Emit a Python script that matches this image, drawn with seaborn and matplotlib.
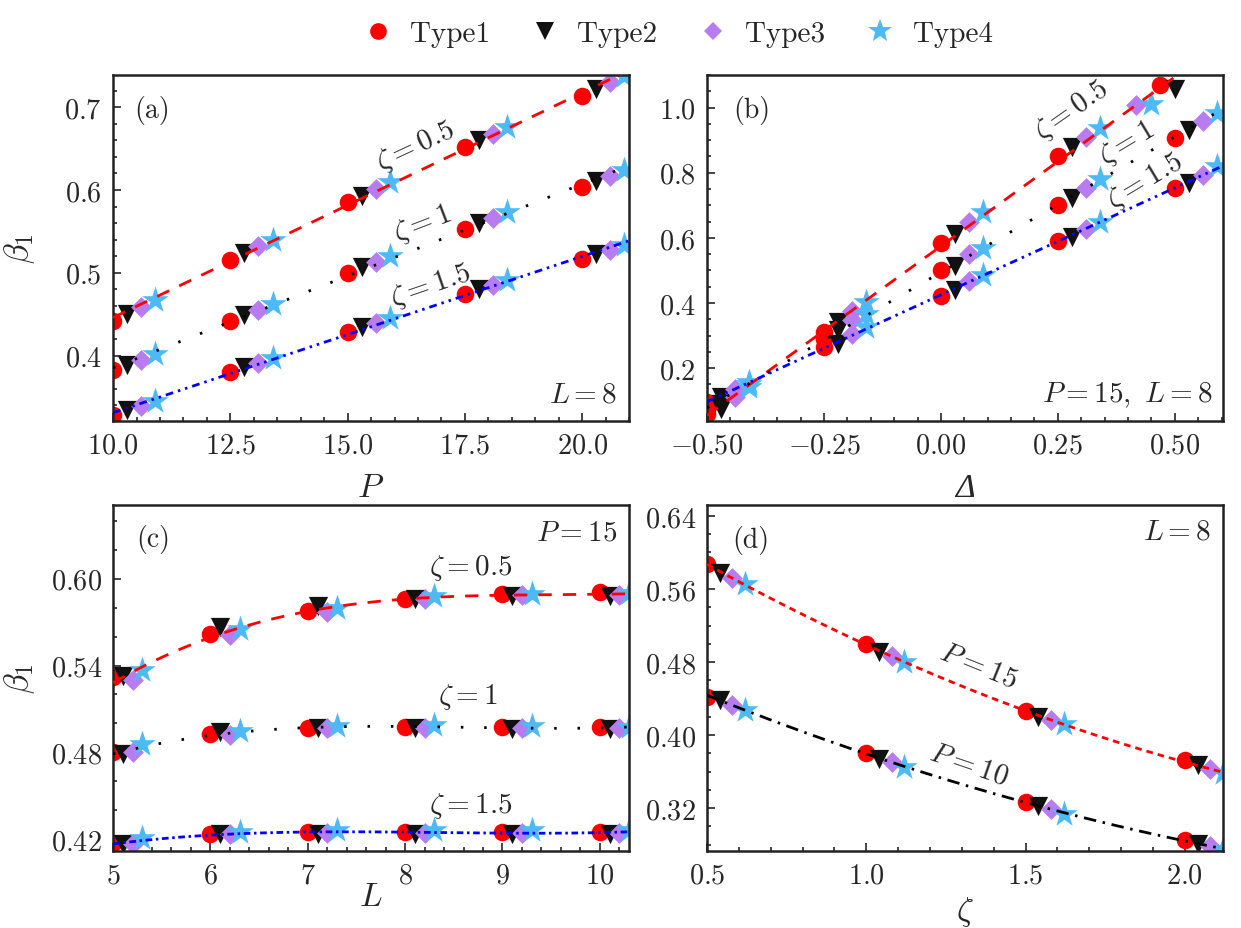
import numpy as np
import pandas as pd
import matplotlib
matplotlib.use("Agg")
import matplotlib.pyplot as plt
import seaborn as sns
from matplotlib.lines import Line2D
from matplotlib.ticker import MultipleLocator, FuncFormatter

TYPES = ["Type1", "Type2", "Type3", "Type4"]
COLORS = {"Type1": "#ff0000", "Type2": "#111111", "Type3": "#b97cf0", "Type4": "#4dbaf6"}
MARKERS = {"Type1": "o", "Type2": "v", "Type3": "D", "Type4": "*"}
SIZES = {"Type1": 40, "Type2": 48, "Type3": 28, "Type4": 100}

# (a) beta_1 vs P, L = 8
A_X = {"Type1": [10, 12.5, 15, 17.5, 20],
       "Type2": [10.3, 12.8, 15.3, 17.8, 20.3],
       "Type3": [10.6, 13.1, 15.6, 18.1, 20.6],
       "Type4": [10.9, 13.4, 15.9, 18.4, 20.9]}
A_Z05 = {"Type1": [0.442, 0.516, 0.585, 0.652, 0.714],
         "Type2": [0.450, 0.524, 0.593, 0.660, 0.722],
         "Type3": [0.459, 0.532, 0.601, 0.668, 0.730],
         "Type4": [0.467, 0.540, 0.610, 0.676, 0.738]}
A_Z1 = {"Type1": [0.382, 0.442, 0.500, 0.553, 0.604],
        "Type2": [0.389, 0.449, 0.507, 0.560, 0.611],
        "Type3": [0.395, 0.455, 0.513, 0.566, 0.617],
        "Type4": [0.402, 0.462, 0.520, 0.573, 0.624]}
A_Z15 = {"Type1": [0.328, 0.380, 0.428, 0.474, 0.517],
         "Type2": [0.334, 0.386, 0.434, 0.480, 0.523],
         "Type3": [0.339, 0.391, 0.439, 0.485, 0.528],
         "Type4": [0.345, 0.397, 0.445, 0.491, 0.534]}

# (b) beta_1 vs Delta, P = 15, L = 8
B_X = {"Type1": [-0.5, -0.25, 0.0, 0.25, 0.5],
       "Type2": [-0.47, -0.22, 0.03, 0.28, 0.53],
       "Type3": [-0.44, -0.19, 0.06, 0.31, 0.56],
       "Type4": [-0.41, -0.16, 0.09, 0.34, 0.59]}
B_X_Z05 = {"Type1": [-0.5, -0.25, 0.0, 0.25, 0.469],
           "Type2": [-0.47, -0.22, 0.03, 0.28, 0.5],
           "Type3": [-0.44, -0.19, 0.06, 0.31, 0.418],
           "Type4": [-0.41, -0.16, 0.09, 0.34, 0.45]}
B_Z05 = {"Type1": [0.058, 0.311, 0.585, 0.851, 1.068],
         "Type2": [0.076, 0.342, 0.611, 0.879, 1.057],
         "Type3": [0.112, 0.377, 0.649, 0.910, 1.009],
         "Type4": [0.142, 0.403, 0.679, 0.938, 1.012]}
B_Z1 = {"Type1": [0.075, 0.290, 0.500, 0.702, 0.907],
        "Type2": [0.090, 0.316, 0.515, 0.723, 0.930],
        "Type3": [0.124, 0.347, 0.551, 0.754, 0.958],
        "Type4": [0.150, 0.367, 0.569, 0.781, 0.984]}
B_Z15 = {"Type1": [0.096, 0.265, 0.423, 0.590, 0.754],
         "Type2": [0.112, 0.275, 0.439, 0.603, 0.767],
         "Type3": [0.137, 0.306, 0.469, 0.628, 0.794],
         "Type4": [0.158, 0.326, 0.485, 0.648, 0.820]}

# (c) beta_1 vs L, P = 15
C_X = {"Type1": [5, 6, 7, 8, 9, 10],
       "Type2": [5.1, 6.1, 7.1, 8.1, 9.1, 10.1],
       "Type3": [5.2, 6.2, 7.2, 8.2, 9.2, 10.2],
       "Type4": [5.3, 6.3, 7.3, 8.3, 9.3, 10.3]}
C_Z05 = {"Type1": [0.532, 0.562, 0.578, 0.586, 0.5895, 0.5906],
         "Type2": [0.533, 0.567, 0.581, 0.586, 0.588, 0.588],
         "Type3": [0.530, 0.561, 0.577, 0.586, 0.589, 0.589],
         "Type4": [0.537, 0.565, 0.580, 0.588, 0.5895, 0.590]}
C_Z1 = {"Type1": [0.480, 0.4925, 0.497, 0.4978, 0.4978, 0.4975],
        "Type2": [0.479, 0.494, 0.4965, 0.4965, 0.4962, 0.4962],
        "Type3": [0.480, 0.492, 0.4965, 0.4965, 0.4965, 0.4965],
        "Type4": [0.4855, 0.495, 0.4985, 0.499, 0.4985, 0.4978]}
C_Z15 = {"Type1": [0.417, 0.4235, 0.4247, 0.4247, 0.4247, 0.4247],
         "Type2": [0.4165, 0.4235, 0.4235, 0.4235, 0.4235, 0.4235],
         "Type3": [0.4165, 0.4235, 0.424, 0.424, 0.424, 0.424],
         "Type4": [0.421, 0.4247, 0.426, 0.426, 0.426, 0.426]}

# (d) beta_1 vs zeta, L = 8
D_X = {"Type1": [0.5, 1.0, 1.5, 2.0],
       "Type2": [0.54, 1.04, 1.54, 2.04],
       "Type3": [0.58, 1.08, 1.58, 2.08],
       "Type4": [0.62, 1.12, 1.62, 2.12]}
D_P15 = {"Type1": [0.587, 0.4995, 0.4265, 0.3725],
         "Type2": [0.578, 0.491, 0.420, 0.367],
         "Type3": [0.572, 0.487, 0.4167, 0.3623],
         "Type4": [0.5655, 0.4803, 0.412, 0.358]}
D_P10 = {"Type1": [0.442, 0.3805, 0.3266, 0.2846],
         "Type2": [0.4386, 0.3743, 0.3218, 0.281],
         "Type3": [0.433, 0.3707, 0.319, 0.279],
         "Type4": [0.4276, 0.365, 0.3136, 0.275]}


def make_frame(series):
    rows = []
    for name, xs, ys in series:
        for t in TYPES:
            for x, y in zip(xs[t], ys[t]):
                rows.append({"series": name, "type": t, "x": x, "y": y})
    return pd.DataFrame(rows)


def draw_panel(ax, df, styles, deg, xlim, ylim):
    for t in TYPES:
        sub = df[df["type"] == t]
        sns.scatterplot(data=sub, x="x", y="y", ax=ax, marker=MARKERS[t], color=COLORS[t],
                        s=SIZES[t], linewidth=0, legend=False, zorder=2)
    grid = np.linspace(xlim[0], xlim[1], 300)
    for name, (color, ls) in styles.items():
        sub = df[df["series"] == name]
        coef = np.polyfit(sub["x"], sub["y"], deg)
        sns.lineplot(x=grid, y=np.polyval(coef, grid), ax=ax, color=color,
                     linestyle=ls, linewidth=1.0, zorder=3)
    ax.set_xlim(*xlim)
    ax.set_ylim(*ylim)


def style_axes(ax, xmaj, xmin, ymaj, ymin, xfmt, yfmt, xlabel, xlab_y, ylabel=None, **xlab_kw):
    ax.xaxis.set_major_locator(MultipleLocator(xmaj))
    ax.xaxis.set_minor_locator(MultipleLocator(xmin))
    ax.yaxis.set_major_locator(MultipleLocator(ymaj))
    ax.yaxis.set_minor_locator(MultipleLocator(ymin))
    ax.xaxis.set_major_formatter(FuncFormatter(lambda v, p: "$" + xfmt.format(v) + "$"))
    ax.yaxis.set_major_formatter(FuncFormatter(lambda v, p: "$" + yfmt.format(v) + "$"))
    ax.tick_params(which="both", direction="in", top=False, right=False, width=0.6,
                   labelsize=10.2, pad=4)
    ax.tick_params(which="major", length=3)
    ax.tick_params(which="minor", length=1.6)
    for sp in ax.spines.values():
        sp.set_linewidth(0.9)
        sp.set_color("#222222")
    ax.set_xlabel(xlabel, fontsize=12, **xlab_kw)
    ax.xaxis.set_label_coords(0.5, xlab_y)
    if ylabel:
        ax.set_ylabel(ylabel, fontsize=12)
        ax.yaxis.set_label_coords(-0.148, 0.5)
    else:
        ax.set_ylabel("")


sns.set_style("ticks")
plt.rcParams["font.family"] = "serif"
plt.rcParams["font.serif"] = ["cmr10"]
plt.rcParams["mathtext.fontset"] = "cm"
plt.rcParams["axes.formatter.use_mathtext"] = True
plt.rcParams["lines.scale_dashes"] = False

fig = plt.figure(figsize=(6.205, 4.645), dpi=200)
ax_a = fig.add_axes([0.0911, 0.5458, 0.4158, 0.3724])
ax_b = fig.add_axes([0.5697, 0.5458, 0.4158, 0.3724])
ax_c = fig.add_axes([0.0911, 0.0829, 0.4158, 0.3724])
ax_d = fig.add_axes([0.5697, 0.0829, 0.4158, 0.3724])

RED_DASH = (0, (4.8, 4.0))
BLK_DOT = (0, (0.9, 7.5))
BLUE_DDOT = (0, (2.8, 1.8, 0.9, 1.8, 0.9, 1.8))
BLUE_DOT = (0, (2.4, 1.3, 0.9, 1.3))

# (a)
df_a = make_frame([("0.5", A_X, A_Z05), ("1", A_X, A_Z1), ("1.5", A_X, A_Z15)])
draw_panel(ax_a, df_a, {"0.5": ("red", RED_DASH), "1": ("black", BLK_DOT), "1.5": ("blue", BLUE_DDOT)},
           1, (10, 21.0), (0.321, 0.739))
style_axes(ax_a, 2.5, 0.5, 0.1, 0.02, "{:.1f}", "{:.1f}", "$P$", -0.15, r"$\beta_1$")
ax_a.text(0.041, 0.90, "(a)", transform=ax_a.transAxes, fontsize=10, va="center", ha="left")
ax_a.text(0.977, 0.04, "$L=8$", transform=ax_a.transAxes, fontsize=10.5, va="bottom", ha="right")
ax_a.text(16.44, 0.654, r"$\zeta=0.5$", fontsize=10.5, rotation=25, ha="center", va="center", rotation_mode="anchor")
ax_a.text(16.6, 0.560, r"$\zeta=1$", fontsize=10.5, rotation=21, ha="center", va="center", rotation_mode="anchor")
ax_a.text(16.76, 0.485, r"$\zeta=1.5$", fontsize=10.5, rotation=19, ha="center", va="center", rotation_mode="anchor")

# (b)
df_b = make_frame([("0.5", B_X_Z05, B_Z05), ("1", B_X, B_Z1), ("1.5", B_X, B_Z15)])
draw_panel(ax_b, df_b, {"0.5": ("red", RED_DASH), "1": ("black", BLK_DOT), "1.5": ("blue", BLUE_DDOT)},
           1, (-0.5, 0.603), (0.038, 1.1))
style_axes(ax_b, 0.25, 0.05, 0.2, 0.05, "{:.2f}", "{:.1f}", "Δ", -0.15,
           family="Liberation Serif", fontstyle="italic")
ax_b.text(0.05, 0.90, "(b)", transform=ax_b.transAxes, fontsize=10, va="center", ha="left")
ax_b.text(0.979, 0.035, r"$P=15,\ L=8$", transform=ax_b.transAxes, fontsize=10.5, va="bottom", ha="right")
ax_b.text(0.279, 0.994, r"$\zeta=0.5$", fontsize=10.5, rotation=35, ha="center", va="center", rotation_mode="anchor")
ax_b.text(0.397, 0.893, r"$\zeta=1$", fontsize=10.5, rotation=31, ha="center", va="center", rotation_mode="anchor")
ax_b.text(0.436, 0.776, r"$\zeta=1.5$", fontsize=10.5, rotation=31, ha="center", va="center", rotation_mode="anchor")

# (c)
df_c = make_frame([("0.5", C_X, C_Z05), ("1", C_X, C_Z1), ("1.5", C_X, C_Z15)])
draw_panel(ax_c, df_c, {"0.5": ("red", RED_DASH), "1": ("black", BLK_DOT), "1.5": ("blue", BLUE_DOT)},
           3, (5, 10.3), (0.4118, 0.651))
style_axes(ax_c, 1, 0.2, 0.06, 0.02, "{:.0f}", "{:.2f}", "$L$", -0.09, r"$\beta_1$")
ax_c.text(0.045, 0.903, "(c)", transform=ax_c.transAxes, fontsize=10, va="center", ha="left")
ax_c.text(0.977, 0.92, "$P=15$", transform=ax_c.transAxes, fontsize=10.5, va="center", ha="right")
ax_c.text(8.67, 0.608, r"$\zeta=0.5$", fontsize=10.5, ha="center", va="center")
ax_c.text(8.65, 0.519, r"$\zeta=1$", fontsize=10.5, ha="center", va="center")
ax_c.text(8.67, 0.4437, r"$\zeta=1.5$", fontsize=10.5, ha="center", va="center")

# (d)
df_d = make_frame([("15", D_X, D_P15), ("10", D_X, D_P10)])
draw_panel(ax_d, df_d, {"15": ("red", (0, (2.4, 1.8))), "10": ("black", (0, (4.5, 2.4, 0.9, 2.4)))},
           2, (0.5, 2.12), (0.273, 0.652))
style_axes(ax_d, 0.5, 0.1, 0.08, 0.02, "{:.1f}", "{:.2f}", r"$\zeta$", -0.125)
ax_d.text(0.049, 0.90, "(d)", transform=ax_d.transAxes, fontsize=10, va="center", ha="left")
ax_d.text(0.977, 0.925, "$L=8$", transform=ax_d.transAxes, fontsize=10.5, va="center", ha="right")
ax_d.text(1.351, 0.477, "$P=15$", fontsize=10.5, rotation=-22, ha="center", va="center", rotation_mode="anchor")
ax_d.text(1.323, 0.368, "$P=10$", fontsize=10.5, rotation=-19, ha="center", va="center", rotation_mode="anchor")

# shared legend
LEG_MS = {"Type1": 6.0, "Type2": 6.4, "Type3": 4.8, "Type4": 9.0}
handles = [Line2D([], [], ls="none", marker=MARKERS[t], color=COLORS[t], markersize=LEG_MS[t],
                  markeredgewidth=0) for t in TYPES]
fig.legend(handles, TYPES, loc="center", bbox_to_anchor=(0.545, 1 - 35 / 929), ncol=4,
           frameon=False, fontsize=10.5, handletextpad=0.5, columnspacing=1.3, handlelength=1.2)

fig.savefig("out.png", dpi=200)
